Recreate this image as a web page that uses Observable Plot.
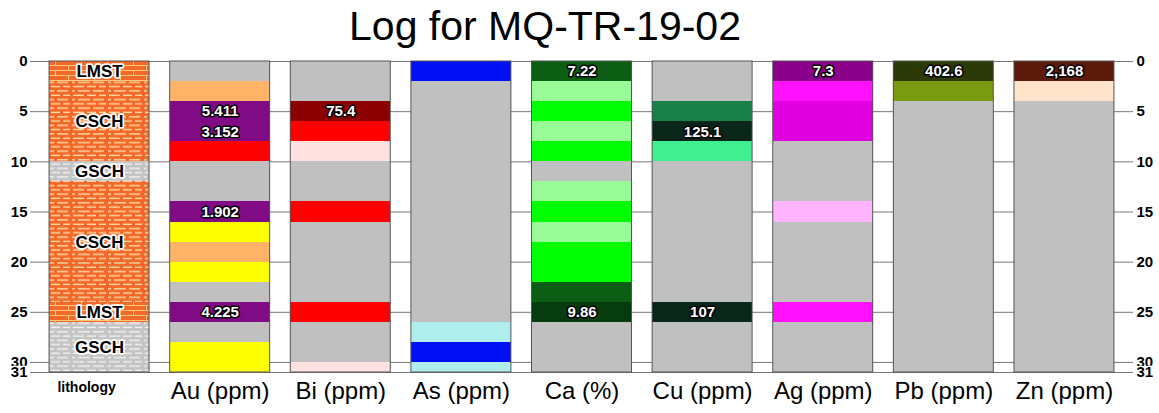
<!DOCTYPE html>
<html>
<head>
<meta charset="utf-8">
<script src="https://cdn.jsdelivr.net/npm/d3@7"></script>
<script src="https://cdn.jsdelivr.net/npm/@observablehq/plot@0.6"></script>
<style>
  body { margin: 0; background: #fff; font-family: "Liberation Sans", Arial, sans-serif; }
  #title { height: 50px; line-height: 52px; font-size: 41px; text-align: center; padding-right: 69px; white-space: nowrap; color: #000; overflow: visible; }
  #chart svg { display: block; }
</style>
</head>
<body>
<div id="title">Log for MQ-TR-19-02</div>
<div id="chart"></div>
<script>
// ---------- data ----------
const columnKeys = ["lithology", "Au", "Bi", "As", "Ca", "Cu", "Ag", "Pb", "Zn"];
const columnTitles = ["lithology", "Au (ppm)", "Bi (ppm)", "As (ppm)", "Ca (%)", "Cu (ppm)", "Ag (ppm)", "Pb (ppm)", "Zn (ppm)"];

const depthTicks = [0, 5, 10, 15, 20, 25, 30, 31];

// lithology intervals
const lithTops = [0, 2, 10, 12, 24, 26];
const lithBottoms = [2, 10, 12, 24, 26, 31];
const lithCodes = ["LMST", "CSCH", "GSCH", "CSCH", "LMST", "GSCH"];

// assay intervals
const intervalTops =    [0, 2, 4, 6, 8, 10, 12, 14, 16, 18, 20, 22, 24, 26, 28, 30];
const intervalBottoms = [2, 4, 6, 8, 10, 12, 14, 16, 18, 20, 22, 24, 26, 28, 30, 31];

// value class of each interval (0 = background)
const auClass = [0, 2, 4, 4, 3, 0, 0, 4, 1, 2, 1, 0, 4, 0, 1, 1];
const biClass = [0, 0, 3, 2, 1, 0, 0, 2, 0, 0, 0, 0, 2, 0, 0, 1];
const asClass = [2, 0, 0, 0, 0, 0, 0, 0, 0, 0, 0, 0, 0, 1, 2, 1];
const caClass = [3, 1, 2, 1, 2, 0, 1, 2, 1, 2, 2, 3, 4, 0, 0, 0];
const cuClass = [0, 0, 2, 3, 1, 0, 0, 0, 0, 0, 0, 0, 3, 0, 0, 0];
const agClass = [4, 2, 3, 3, 0, 0, 0, 1, 0, 0, 0, 0, 2, 0, 0, 0];
const pbClass = [2, 1, 0, 0, 0, 0, 0, 0, 0, 0, 0, 0, 0, 0, 0, 0];
const znClass = [2, 1, 0, 0, 0, 0, 0, 0, 0, 0, 0, 0, 0, 0, 0, 0];

// labelled maxima
const auLabels = ["", "", "5.411", "3.152", "", "", "", "1.902", "", "", "", "", "4.225", "", "", ""];
const biLabels = ["", "", "75.4", "", "", "", "", "", "", "", "", "", "", "", "", ""];
const asLabels = ["", "", "", "", "", "", "", "", "", "", "", "", "", "", "", ""];
const caLabels = ["7.22", "", "", "", "", "", "", "", "", "", "", "", "9.86", "", "", ""];
const cuLabels = ["", "", "", "125.1", "", "", "", "", "", "", "", "", "107", "", "", ""];
const agLabels = ["7.3", "", "", "", "", "", "", "", "", "", "", "", "", "", "", ""];
const pbLabels = ["402.6", "", "", "", "", "", "", "", "", "", "", "", "", "", "", ""];
const znLabels = ["2,168", "", "", "", "", "", "", "", "", "", "", "", "", "", "", ""];

// ---------- styles ----------
const gray = "#c0c0c0";
const palettes = {
  Au: [gray, "#ffff00", "#ffb366", "#ff0000", "#800b84"],
  Bi: [gray, "#ffe2e0", "#ff0000", "#8b0000"],
  As: [gray, "#b0eeee", "#0010f4"],
  Ca: [gray, "#98fb98", "#00ff00", "#0b5e14", "#063c0e"],
  Cu: [gray, "#40f090", "#168048", "#08261a"],
  Ag: [gray, "#ffb4ff", "#ff10ff", "#e000e0", "#8b008b"],
  Pb: [gray, "#7a9a10", "#2b3a08"],
  Zn: [gray, "#ffe4cc", "#5c1a0a"]
};
const lithFill = { LMST: "url(#pat-lmst)", CSCH: "url(#pat-csch)", GSCH: "url(#pat-gsch)" };

const classes = { Au: auClass, Bi: biClass, As: asClass, Ca: caClass, Cu: cuClass, Ag: agClass, Pb: pbClass, Zn: znClass };
const labels = { Au: auLabels, Bi: biLabels, As: asLabels, Ca: caLabels, Cu: cuLabels, Ag: agLabels, Pb: pbLabels, Zn: znLabels };

const cells = [];
for (const col of Object.keys(classes)) {
  classes[col].forEach((c, i) => {
    cells.push({ col, top: intervalTops[i], bottom: intervalBottoms[i], cls: c, label: labels[col][i] });
  });
}
const lith = lithCodes.map((code, i) => ({ col: "lithology", top: lithTops[i], bottom: lithBottoms[i], code }));

const depthMin = d3.min(intervalTops), depthMax = d3.max(intervalBottoms);
const frames = columnKeys.map(k => ({ col: k, top: depthMin, bottom: depthMax }));
const headers = columnKeys.map((k, i) => ({ col: k, title: columnTitles[i] }));

const font = "'Liberation Sans', Arial, sans-serif";

const svg = Plot.plot({
  width: 1159,
  height: 363,
  marginTop: 11,
  marginBottom: 41,
  marginLeft: 30,
  marginRight: 26,
  style: { fontFamily: font, background: "white", color: "black" },
  x: { type: "band", domain: columnKeys, paddingInner: 0.171, paddingOuter: 0.158, round: false, axis: null },
  y: { domain: [depthMin, depthMax], reverse: true, axis: null },
  color: { type: "identity" },
  marks: [
    Plot.ruleY(depthTicks, { stroke: "#777", strokeWidth: 1 }),
    Plot.barY(lith, { x: "col", y1: "top", y2: "bottom", fill: d => lithFill[d.code], shapeRendering: "crispEdges", inset: 0 }),
    Plot.barY(cells, { x: "col", y1: "top", y2: "bottom", fill: d => palettes[d.col][d.cls], shapeRendering: "crispEdges", inset: 0 }),
    Plot.barY(frames, { x: "col", y1: "top", y2: "bottom", fill: "none", stroke: "#555", strokeWidth: 1, inset: 0 }),
    Plot.text(cells.filter(d => d.label), {
      x: "col", y: d => (d.top + d.bottom) / 2, text: "label",
      fill: "white", stroke: "black", strokeWidth: 3, fontWeight: "bold", fontSize: 15
    }),
    Plot.text(lith, {
      x: "col", y: d => (d.top + d.bottom) / 2, text: "code",
      fill: "black", stroke: "white", strokeWidth: 3.5, fontWeight: "bold", fontSize: 17
    }),
    Plot.text(depthTicks, { y: d => d, text: d => String(d), frameAnchor: "left", textAnchor: "end", dx: -3, fontWeight: "bold", fontSize: 15, fill: "black", stroke: "white", strokeWidth: 3 }),
    Plot.text(depthTicks, { y: d => d, text: d => String(d), frameAnchor: "right", textAnchor: "start", dx: 3, fontWeight: "bold", fontSize: 15, fill: "black", stroke: "white", strokeWidth: 3 }),
    Plot.text(headers.filter(d => d.col !== "lithology"), {
      x: "col", text: "title", frameAnchor: "bottom", dy: 26, fontSize: 24, fill: "black"
    }),
    Plot.text(headers.filter(d => d.col === "lithology"), {
      x: "col", text: "title", frameAnchor: "bottom", dy: 19, dx: -13, fontSize: 14, fontWeight: "bold", fill: "black"
    })
  ]
});

// patterns for lithology
const defs = d3.select(svg).insert("defs", ":first-child");
function dashPattern(id, bg, fg) {
  const p = defs.append("pattern").attr("id", id).attr("patternUnits", "userSpaceOnUse")
    .attr("width", 36).attr("height", 8.6);
  p.append("rect").attr("width", 36).attr("height", 8.6).attr("fill", bg);
  const rows = [
    [1.6, [[1, 11], [15, 9], [27, 7]]],
    [5.9, [[6, 12], [21, 11]]]
  ];
  for (const [y, segs] of rows) {
    for (const [x, w] of segs) {
      p.append("rect").attr("x", x).attr("y", y).attr("width", w).attr("height", 1.3).attr("fill", fg);
    }
  }
  p.append("rect").attr("x", 0).attr("y", 5.9).attr("width", 3).attr("height", 1.3).attr("fill", fg);
}
dashPattern("pat-csch", "#f2692a", "#ffe2b0");
dashPattern("pat-gsch", "#c4c4c4", "#f4f4f4");
{
  const p = defs.append("pattern").attr("id", "pat-lmst").attr("patternUnits", "userSpaceOnUse")
    .attr("width", 26).attr("height", 10);
  p.append("rect").attr("width", 26).attr("height", 10).attr("fill", "#f2692a");
  p.append("rect").attr("x", 0).attr("y", 0).attr("width", 26).attr("height", 1).attr("fill", "#f6c878");
  p.append("rect").attr("x", 0).attr("y", 5).attr("width", 26).attr("height", 1).attr("fill", "#f6c878");
  p.append("rect").attr("x", 3).attr("y", 0).attr("width", 1).attr("height", 5).attr("fill", "#f6c878");
  p.append("rect").attr("x", 16).attr("y", 5).attr("width", 1).attr("height", 5).attr("fill", "#f6c878");
}

document.getElementById("chart").appendChild(svg);
</script>
</body>
</html>
